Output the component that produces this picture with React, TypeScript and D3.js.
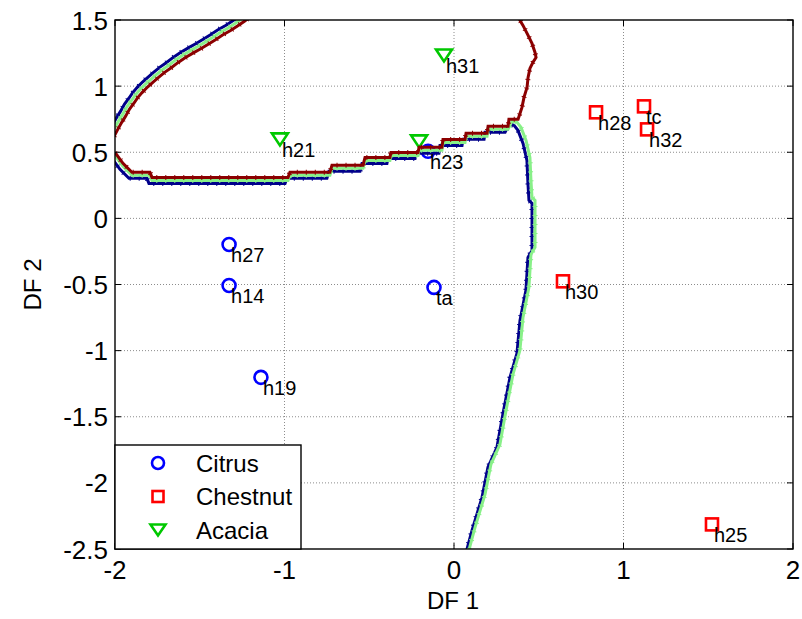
import React from "react";
import * as d3 from "d3";

// ---------- data ----------
const xTicks = [-2, -1, 0, 1, 2];
const yTicks = [-2.5, -2, -1.5, -1, -0.5, 0, 0.5, 1, 1.5];
const xTickLabels = ["-2", "-1", "0", "1", "2"];
const yTickLabels = ["-2.5", "-2", "-1.5", "-1", "-0.5", "0", "0.5", "1", "1.5"];

const citrusNames = ["h27", "h14", "h19", "ta", "h23"];
const citrusX = [-1.327, -1.327, -1.139, -0.118, -0.153];
const citrusY = [-0.197, -0.507, -1.202, -0.522, 0.507];

const chestnutNames = ["h28", "tc", "h32", "h30", "h25"];
const chestnutX = [0.838, 1.121, 1.139, 0.643, 1.522];
const chestnutY = [0.802, 0.847, 0.673, -0.476, -2.314];

const acaciaNames = ["h21", "h31", ""];
const acaciaX = [-1.027, -0.059, -0.206];
const acaciaY = [0.597, 1.232, 0.582];

const legendLabels = ["Citrus", "Chestnut", "Acacia"];

// decision boundary (upper-left arc)
const arcBoundary: [number, number][] = [
  [-2.02, 0.64], [-2.0, 0.688], [-1.975, 0.745], [-1.953, 0.79], [-1.929, 0.845],
  [-1.9, 0.895], [-1.882, 0.93], [-1.855, 0.97], [-1.823, 1.012], [-1.79, 1.05],
  [-1.758, 1.085], [-1.72, 1.125], [-1.681, 1.16], [-1.64, 1.2], [-1.599, 1.235],
  [-1.55, 1.272], [-1.504, 1.305], [-1.46, 1.34], [-1.422, 1.37], [-1.38, 1.405],
  [-1.333, 1.44], [-1.29, 1.475], [-1.251, 1.51], [-1.22, 1.54],
];

// decision boundary (stair from left edge to junction)
const stairBoundary: [number, number][] = [
  [-2.0, 0.499], [-1.953, 0.416], [-1.9, 0.348], [-1.794, 0.348], [-1.782, 0.31],
  [-0.979, 0.31], [-0.968, 0.348], [-0.732, 0.348], [-0.72, 0.401], [-0.537, 0.401],
  [-0.525, 0.461], [-0.378, 0.461], [-0.372, 0.499], [-0.212, 0.499], [-0.206, 0.537],
  [-0.071, 0.537], [-0.065, 0.597], [0.065, 0.597], [0.071, 0.643], [0.195, 0.643],
  [0.201, 0.696], [0.319, 0.696],
];

// upper branch (Acacia / Chestnut)
const upperBranch: [number, number][] = [
  [0.324, 0.749], [0.378, 0.749], [0.401, 0.839], [0.413, 0.915], [0.431, 0.991],
  [0.437, 1.066], [0.448, 1.134], [0.466, 1.18], [0.484, 1.217], [0.478, 1.255],
  [0.46, 1.323], [0.437, 1.384], [0.407, 1.459], [0.389, 1.497], [0.372, 1.573],
];

// lower branch (Citrus / Chestnut)
const lowerBranch: [number, number][] = [
  [0.342, 0.756], [0.372, 0.749], [0.395, 0.711], [0.425, 0.612], [0.448, 0.484],
  [0.454, 0.31], [0.46, 0.181], [0.478, 0.159], [0.478, -0.197], [0.454, -0.25],
  [0.442, -0.499], [0.407, -0.726], [0.389, -0.975], [0.348, -1.157], [0.307, -1.429],
  [0.271, -1.686], [0.218, -1.837], [0.183, -2.064], [0.124, -2.314], [0.094, -2.457],
  [0.077, -2.555],
];

// ---------- layout ----------
const W = 802;
const H = 619;
const L = 115, R = 793, T = 20, B = 549;
const FONT = "'Liberation Sans', Arial, Helvetica, sans-serif";

const BLUE_LINE = "#00008b";
const GREEN_LINE = "#88f088";
const RED_LINE = "#8b0000";
const C_BLUE = "#0000ff";
const C_RED = "#ff0000";
const C_GREEN = "#00c800";

function Circle({ x, y, r = 6.5 }: { x: number; y: number; r?: number }) {
  return <circle cx={x} cy={y} r={r} fill="none" stroke={C_BLUE} strokeWidth={2.6} />;
}
function Square({ x, y, s = 12 }: { x: number; y: number; s?: number }) {
  return <rect x={x - s / 2} y={y - s / 2} width={s} height={s} fill="none" stroke={C_RED} strokeWidth={2.6} />;
}
function Tri({ x, y, w = 16, h = 12 }: { x: number; y: number; w?: number; h?: number }) {
  const p = `${x - w / 2},${y - h / 2} ${x + w / 2},${y - h / 2} ${x},${y + h / 2}`;
  return <polygon points={p} fill="none" stroke={C_GREEN} strokeWidth={2.6} strokeLinejoin="miter" />;
}

function Boundary({ d, color, transform }: { d: string; color: string; transform?: string }) {
  return (
    <g transform={transform}>
      <path d={d} stroke={color} strokeWidth={3} fill="none" />
      <path d={d} stroke={color} strokeWidth={5} strokeDasharray="1 8" fill="none" />
    </g>
  );
}

export default function App() {
  const xs = d3.scaleLinear().domain([-2, 2]).range([L, R]);
  const ys = d3.scaleLinear().domain([-2.5, 1.5]).range([B, T]);

  const line = d3.line<[number, number]>().x((d) => xs(d[0])).y((d) => ys(d[1]));

  const arcPath = line(arcBoundary) || "";
  const redPath = line([...stairBoundary, ...upperBranch]) || "";
  const lowPath = line([...stairBoundary, ...lowerBranch]) || "";

  return (
    <svg
      width={W}
      height={H}
      style={{ position: "absolute", left: 0, top: 0, background: "#fff" }}
      fontFamily={FONT}
    >
      <defs>
        <clipPath id="plotClip">
          <rect x={L} y={T} width={R - L} height={B - T} />
        </clipPath>
      </defs>
      <rect x={0} y={0} width={W} height={H} fill="#fff" />

      {/* grid */}
      <g stroke="#8c8c8c" strokeWidth={1} strokeDasharray="1 2">
        {xTicks.slice(1, -1).map((t) => (
          <line key={"gx" + t} x1={xs(t)} x2={xs(t)} y1={T} y2={B} />
        ))}
        {yTicks.slice(1, -1).map((t) => (
          <line key={"gy" + t} x1={L} x2={R} y1={ys(t)} y2={ys(t)} />
        ))}
      </g>

      {/* markers */}
      <g>
        {citrusX.map((v, i) => (
          <Circle key={"c" + i} x={xs(v)} y={ys(citrusY[i])} />
        ))}
        {chestnutX.map((v, i) => (
          <Square key={"s" + i} x={xs(v)} y={ys(chestnutY[i])} />
        ))}
        {acaciaX.map((v, i) => (
          <Tri key={"t" + i} x={xs(v)} y={ys(acaciaY[i])} />
        ))}
      </g>

      {/* boundaries */}
      <g clipPath="url(#plotClip)">
        <Boundary d={arcPath} color={BLUE_LINE} transform="translate(-2.5,-2.5)" />
        <Boundary d={arcPath} color={GREEN_LINE} />
        <Boundary d={arcPath} color={RED_LINE} transform="translate(2.5,2.5)" />
        <Boundary d={lowPath} color={BLUE_LINE} transform="translate(-3,6)" />
        <Boundary d={lowPath} color={GREEN_LINE} transform="translate(0,3)" />
        <Boundary d={redPath} color={RED_LINE} />
      </g>

      {/* point labels */}
      <g fontSize={20} fill="#000">
        {citrusNames.map((n, i) => (
          <text key={"cl" + i} x={xs(citrusX[i]) + 2} y={ys(citrusY[i]) + 18}>{n}</text>
        ))}
        {chestnutNames.map((n, i) => (
          <text key={"sl" + i} x={xs(chestnutX[i]) + 2} y={ys(chestnutY[i]) + 18}>{n}</text>
        ))}
        {acaciaNames.map((n, i) => (
          <text key={"al" + i} x={xs(acaciaX[i]) + 2} y={ys(acaciaY[i]) + 18}>{n}</text>
        ))}
      </g>

      {/* axes box and ticks */}
      <rect x={L} y={T} width={R - L} height={B - T} fill="none" stroke="#000" strokeWidth={1.4} />
      <g stroke="#000" strokeWidth={1}>
        {xTicks.map((t) => (
          <g key={"xt" + t}>
            <line x1={xs(t)} x2={xs(t)} y1={B} y2={B - 6} />
            <line x1={xs(t)} x2={xs(t)} y1={T} y2={T + 6} />
          </g>
        ))}
        {yTicks.map((t) => (
          <g key={"yt" + t}>
            <line x1={L} x2={L + 6} y1={ys(t)} y2={ys(t)} />
            <line x1={R} x2={R - 6} y1={ys(t)} y2={ys(t)} />
          </g>
        ))}
      </g>

      {/* tick labels */}
      <g fontSize={26} fill="#000">
        {xTicks.map((t, i) => (
          <text key={"xl" + t} x={xs(t)} y={B + 30} textAnchor="middle">{xTickLabels[i]}</text>
        ))}
        {yTicks.map((t, i) => (
          <text key={"yl" + t} x={L - 7} y={ys(t) + 9.5} textAnchor="end">{yTickLabels[i]}</text>
        ))}
      </g>

      {/* axis labels */}
      <text x={(L + R) / 2 - 1} y={609} fontSize={24} textAnchor="middle">DF 1</text>
      <text
        transform={`translate(41,${(T + B) / 2}) rotate(-90)`}
        fontSize={24}
        textAnchor="middle"
      >
        DF 2
      </text>

      {/* legend */}
      <g>
        <rect x={L} y={445} width={186} height={B - 445} fill="#fff" stroke="#000" strokeWidth={1.4} />
        {legendLabels.map((n, i) => {
          const cy = 463 + i * 33.5;
          return (
            <g key={"lg" + i}>
              {i === 0 && <Circle x={158} y={cy} r={6} />}
              {i === 1 && <Square x={158} y={cy} s={11} />}
              {i === 2 && <Tri x={158} y={cy} w={15} h={11} />}
              <text x={196} y={cy + 8.5} fontSize={24}>{n}</text>
            </g>
          );
        })}
      </g>
    </svg>
  );
}
